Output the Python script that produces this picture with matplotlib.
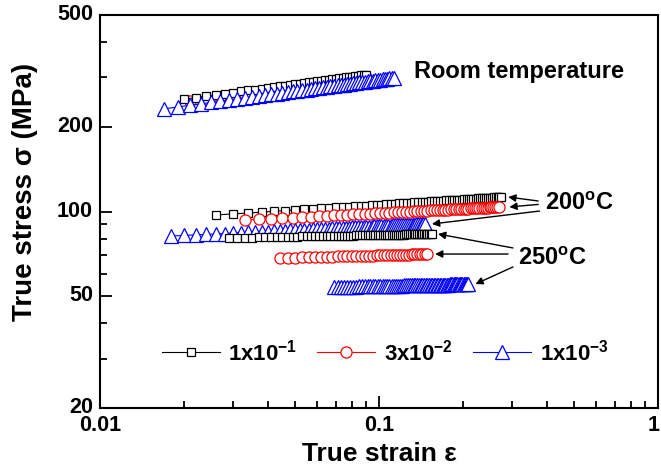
import matplotlib

matplotlib.use("Agg")

import matplotlib.pyplot as plt
from matplotlib.ticker import FixedLocator, NullFormatter
from matplotlib.transforms import ScaledTranslation

# strain rates (legend)
RATE_LABELS = ["1x10$^{-1}$", "3x10$^{-2}$", "1x10$^{-3}$"]
RATE_COLORS = ["black", "#ff0000", "#0000ff"]
RATE_MARKERS = ["s", "o", "^"]
RATE_MARKER_SIZES = [5.8, 8.0, 10.0]

# ---- room temperature ----
rt_fast_strain = [
    0.020, 0.022, 0.024, 0.026, 0.028, 0.030, 0.032, 0.034, 0.036, 0.038,
    0.040, 0.042, 0.044, 0.046, 0.048, 0.050, 0.052, 0.054, 0.056, 0.058,
    0.060, 0.062, 0.064, 0.066, 0.068, 0.070, 0.072, 0.074, 0.076, 0.078,
    0.080, 0.082, 0.084, 0.086, 0.088, 0.090,
]
rt_fast_stress = [
    251.0, 254.2, 257.2, 260.0, 262.6, 265.0, 267.3, 269.5, 271.6, 273.5,
    275.4, 277.2, 278.9, 280.6, 282.2, 283.8, 285.3, 286.7, 288.1, 289.5,
    290.8, 292.1, 293.3, 294.5, 295.7, 296.8, 298.0, 299.1, 300.1, 301.2,
    302.2, 303.2, 304.2, 305.1, 306.1, 307.0,
]
rt_mid_strain = [
    0.021, 0.024, 0.027, 0.030, 0.033, 0.036, 0.039, 0.042, 0.045, 0.048,
    0.051, 0.054, 0.057, 0.060, 0.063, 0.066, 0.069, 0.072, 0.075, 0.078,
    0.081, 0.084, 0.087, 0.090,
]
rt_mid_stress = [
    247.0, 251.5, 255.5, 259.2, 262.6, 265.7, 268.5, 271.2, 273.8, 276.2,
    278.5, 280.6, 282.7, 284.6, 286.5, 288.3, 290.1, 291.7, 293.3, 294.9,
    296.4, 297.9, 299.3, 300.7,
]
rt_slow_strain = [
    0.017, 0.019, 0.021, 0.023, 0.025, 0.027, 0.029, 0.031, 0.033, 0.035,
    0.037, 0.039, 0.041, 0.043, 0.045, 0.047, 0.049, 0.051, 0.053, 0.055,
    0.057, 0.059, 0.061, 0.063, 0.065, 0.067, 0.069, 0.071, 0.073, 0.075,
    0.077, 0.079, 0.081, 0.083, 0.085, 0.087, 0.089, 0.091, 0.093, 0.095,
    0.097, 0.099, 0.101, 0.103, 0.105, 0.107, 0.109, 0.111, 0.113,
]
rt_slow_stress = [
    232.0, 235.5, 238.7, 241.6, 244.3, 246.8, 249.2, 251.4, 253.5, 255.6,
    257.5, 259.3, 261.0, 262.7, 264.3, 265.8, 267.3, 268.8, 270.2, 271.5,
    272.8, 274.1, 275.3, 276.5, 277.6, 278.8, 279.9, 280.9, 282.0, 283.0,
    284.0, 285.0, 285.9, 286.9, 287.8, 288.7, 289.6, 290.4, 291.3, 292.1,
    292.9, 293.7, 294.5, 295.3, 296.1, 296.8, 297.5, 298.3, 299.0,
]

# ---- 200 C ----
t200_fast_strain = [
    0.026, 0.030, 0.034, 0.038, 0.042, 0.046, 0.050, 0.054, 0.058, 0.062,
    0.066, 0.070, 0.074, 0.078, 0.082, 0.086, 0.090, 0.094, 0.098, 0.102,
    0.106, 0.110, 0.114, 0.118, 0.122, 0.126, 0.130, 0.134, 0.138, 0.142,
    0.146, 0.150, 0.154, 0.158, 0.162, 0.166, 0.170, 0.174, 0.178, 0.182,
    0.186, 0.190, 0.194, 0.198, 0.202, 0.206, 0.210, 0.214, 0.218, 0.222,
    0.226, 0.230, 0.234, 0.238, 0.242, 0.246, 0.250, 0.254, 0.258, 0.262,
    0.266, 0.270, 0.274,
]
t200_fast_stress = [
    97.2, 98.1, 98.8, 99.5, 100.2, 100.7, 101.3, 101.7, 102.2, 102.6,
    103.0, 103.4, 103.8, 104.1, 104.4, 104.7, 105.0, 105.3, 105.6, 105.9,
    106.1, 106.4, 106.6, 106.8, 107.1, 107.3, 107.5, 107.7, 107.9, 108.1,
    108.3, 108.4, 108.6, 108.8, 109.0, 109.1, 109.3, 109.5, 109.6, 109.8,
    109.9, 110.1, 110.2, 110.3, 110.5, 110.6, 110.7, 110.9, 111.0, 111.1,
    111.3, 111.4, 111.5, 111.6, 111.7, 111.8, 112.0, 112.1, 112.2, 112.3,
    112.4, 112.5, 112.6,
]
t200_mid_strain = [
    0.033, 0.037, 0.041, 0.045, 0.049, 0.053, 0.057, 0.061, 0.065, 0.069,
    0.073, 0.077, 0.081, 0.085, 0.089, 0.093, 0.097, 0.101, 0.105, 0.109,
    0.113, 0.117, 0.121, 0.125, 0.129, 0.133, 0.137, 0.141, 0.145, 0.149,
    0.153, 0.157, 0.161, 0.165, 0.169, 0.173, 0.177, 0.181, 0.185, 0.189,
    0.193, 0.197, 0.201, 0.205, 0.209, 0.213, 0.217, 0.221, 0.225, 0.229,
    0.233, 0.237, 0.241, 0.245, 0.249, 0.253, 0.257, 0.261, 0.265, 0.269,
]
t200_mid_stress = [
    93.3, 93.8, 94.3, 94.8, 95.2, 95.6, 95.9, 96.3, 96.6, 96.9,
    97.1, 97.4, 97.7, 97.9, 98.1, 98.3, 98.6, 98.8, 99.0, 99.1,
    99.3, 99.5, 99.7, 99.8, 100.0, 100.1, 100.3, 100.4, 100.6, 100.7,
    100.9, 101.0, 101.1, 101.2, 101.4, 101.5, 101.6, 101.7, 101.8, 101.9,
    102.1, 102.2, 102.3, 102.4, 102.5, 102.6, 102.7, 102.8, 102.9, 102.9,
    103.0, 103.1, 103.2, 103.3, 103.4, 103.5, 103.5, 103.6, 103.7, 103.8,
]
t200_slow_strain = [
    0.018, 0.020, 0.022, 0.024, 0.026, 0.028, 0.030, 0.032, 0.034, 0.036,
    0.038, 0.040, 0.042, 0.044, 0.046, 0.048, 0.050, 0.052, 0.054, 0.056,
    0.058, 0.060, 0.062, 0.064, 0.066, 0.068, 0.070, 0.072, 0.074, 0.076,
    0.078, 0.080, 0.082, 0.084, 0.086, 0.088, 0.090, 0.092, 0.094, 0.096,
    0.098, 0.100, 0.102, 0.104, 0.106, 0.108, 0.110, 0.112, 0.114, 0.116,
    0.118, 0.120, 0.122, 0.124, 0.126, 0.128, 0.130, 0.132, 0.134, 0.136,
    0.138, 0.140, 0.142, 0.144, 0.146,
]
t200_slow_stress = [
    81.8, 82.2, 82.6, 82.9, 83.2, 83.5, 83.8, 84.1, 84.3, 84.5,
    84.7, 84.9, 85.1, 85.3, 85.5, 85.7, 85.8, 86.0, 86.2, 86.3,
    86.4, 86.6, 86.7, 86.8, 87.0, 87.1, 87.2, 87.3, 87.4, 87.6,
    87.7, 87.8, 87.9, 88.0, 88.1, 88.2, 88.3, 88.3, 88.4, 88.5,
    88.6, 88.7, 88.8, 88.9, 88.9, 89.0, 89.1, 89.2, 89.2, 89.3,
    89.4, 89.5, 89.5, 89.6, 89.7, 89.7, 89.8, 89.9, 89.9, 90.0,
    90.0, 90.1, 90.2, 90.2, 90.3,
]

# ---- 250 C ----
t250_fast_strain = [
    0.029, 0.031, 0.033, 0.035, 0.037, 0.039, 0.041, 0.043, 0.045, 0.047,
    0.049, 0.051, 0.053, 0.055, 0.057, 0.059, 0.061, 0.063, 0.065, 0.067,
    0.069, 0.071, 0.073, 0.075, 0.077, 0.079, 0.081, 0.083, 0.085, 0.087,
    0.089, 0.091, 0.093, 0.095, 0.097, 0.099, 0.101, 0.103, 0.105, 0.107,
    0.109, 0.111, 0.113, 0.115, 0.117, 0.119, 0.121, 0.123, 0.125, 0.127,
    0.129, 0.131, 0.133, 0.135, 0.137, 0.139, 0.141, 0.143, 0.145, 0.147,
    0.149, 0.151, 0.153, 0.155,
]
t250_fast_stress = [
    80.5, 80.6, 80.7, 80.8, 80.9, 81.0, 81.1, 81.1, 81.2, 81.3,
    81.3, 81.4, 81.5, 81.5, 81.6, 81.6, 81.7, 81.7, 81.8, 81.8,
    81.9, 81.9, 82.0, 82.0, 82.1, 82.1, 82.1, 82.2, 82.2, 82.3,
    82.3, 82.3, 82.4, 82.4, 82.4, 82.5, 82.5, 82.5, 82.6, 82.6,
    82.6, 82.7, 82.7, 82.7, 82.7, 82.8, 82.8, 82.8, 82.9, 82.9,
    82.9, 82.9, 83.0, 83.0, 83.0, 83.0, 83.0, 83.1, 83.1, 83.1,
    83.1, 83.2, 83.2, 83.2,
]
t250_mid_strain = [
    0.044, 0.047, 0.050, 0.053, 0.056, 0.059, 0.062, 0.065, 0.068, 0.071,
    0.074, 0.077, 0.080, 0.083, 0.086, 0.089, 0.092, 0.095, 0.098, 0.101,
    0.104, 0.107, 0.110, 0.113, 0.116, 0.119, 0.122, 0.125, 0.128, 0.131,
    0.134, 0.137, 0.140, 0.143, 0.146, 0.149,
]
t250_mid_stress = [
    68.3, 68.4, 68.5, 68.7, 68.8, 68.9, 68.9, 69.0, 69.1, 69.2,
    69.3, 69.4, 69.4, 69.5, 69.6, 69.6, 69.7, 69.7, 69.8, 69.9,
    69.9, 70.0, 70.0, 70.1, 70.1, 70.2, 70.2, 70.3, 70.3, 70.4,
    70.4, 70.4, 70.5, 70.5, 70.6, 70.6,
]
t250_slow_strain = [
    0.069, 0.071, 0.073, 0.075, 0.077, 0.079, 0.081, 0.083, 0.085, 0.087,
    0.089, 0.091, 0.093, 0.095, 0.097, 0.099, 0.101, 0.103, 0.105, 0.107,
    0.109, 0.111, 0.113, 0.115, 0.117, 0.119, 0.121, 0.123, 0.125, 0.127,
    0.129, 0.131, 0.133, 0.135, 0.137, 0.139, 0.141, 0.143, 0.145, 0.147,
    0.149, 0.151, 0.153, 0.155, 0.157, 0.159, 0.161, 0.163, 0.165, 0.167,
    0.169, 0.171, 0.173, 0.175, 0.177, 0.179, 0.181, 0.183, 0.185, 0.187,
    0.189, 0.191, 0.193, 0.195, 0.197, 0.199, 0.201, 0.203, 0.205, 0.207,
    0.209,
]
t250_slow_stress = [
    53.90, 53.93, 53.97, 54.00, 54.03, 54.06, 54.09, 54.11, 54.14, 54.17,
    54.20, 54.22, 54.25, 54.27, 54.30, 54.32, 54.34, 54.37, 54.39, 54.41,
    54.43, 54.45, 54.47, 54.50, 54.52, 54.54, 54.55, 54.57, 54.59, 54.61,
    54.63, 54.65, 54.67, 54.68, 54.70, 54.72, 54.73, 54.75, 54.77, 54.78,
    54.80, 54.82, 54.83, 54.85, 54.86, 54.88, 54.89, 54.91, 54.92, 54.93,
    54.95, 54.96, 54.98, 54.99, 55.00, 55.02, 55.03, 55.04, 55.06, 55.07,
    55.08, 55.09, 55.11, 55.12, 55.13, 55.14, 55.15, 55.17, 55.18, 55.19,
    55.20,
]

X_TICKS = [0.01, 0.1, 1]
X_TICK_LABELS = ["0.01", "0.1", "1"]
Y_TICKS = [20, 50, 100, 200, 500]
Y_TICK_LABELS = ["20", "50", "100", "200", "500"]
Y_MINOR_TICKS = [30, 40, 60, 70, 80, 90, 300, 400]


def plot_series(ax, strain, stress, rate, zorder, label=None):
    (line,) = ax.plot(
        strain,
        stress,
        color=RATE_COLORS[rate],
        lw=0.8,
        marker=RATE_MARKERS[rate],
        ms=RATE_MARKER_SIZES[rate],
        mfc="white",
        mec=RATE_COLORS[rate],
        mew=0.9,
        zorder=zorder,
        label=label,
    )
    return line


def arrow(ax, head, tail):
    ax.annotate(
        "",
        xy=head,
        xytext=tail,
        arrowprops=dict(
            arrowstyle="-|>",
            color="black",
            lw=1.0,
            shrinkA=0,
            shrinkB=0,
            mutation_scale=11,
        ),
        zorder=20,
    )


def main():
    plt.rcParams["font.family"] = ["Liberation Sans", "DejaVu Sans"]
    plt.rcParams["font.weight"] = "bold"
    plt.rcParams["mathtext.default"] = "regular"
    plt.rcParams["axes.unicode_minus"] = False

    fig = plt.figure(figsize=(6.61, 4.74), dpi=100)
    ax = fig.add_axes([0.1513, 0.1392, 0.8442, 0.8291])

    # drawing order follows the overlaps seen in the original
    h_mid = plot_series(ax, rt_mid_strain, rt_mid_stress, 1, 2, RATE_LABELS[1])
    h_fast = plot_series(ax, rt_fast_strain, rt_fast_stress, 0, 3, RATE_LABELS[0])
    h_slow = plot_series(ax, rt_slow_strain, rt_slow_stress, 2, 4, RATE_LABELS[2])
    plot_series(ax, t200_slow_strain, t200_slow_stress, 2, 5)
    plot_series(ax, t200_fast_strain, t200_fast_stress, 0, 6)
    plot_series(ax, t200_mid_strain, t200_mid_stress, 1, 7)
    plot_series(ax, t250_fast_strain, t250_fast_stress, 0, 8)
    plot_series(ax, t250_mid_strain, t250_mid_stress, 1, 9)
    plot_series(ax, t250_slow_strain, t250_slow_stress, 2, 10)

    ax.set_xscale("log")
    ax.set_yscale("log")
    ax.set_xlim(0.01, 1)
    ax.set_ylim(20, 500)

    ax.set_xticks(X_TICKS, labels=X_TICK_LABELS)
    ax.set_yticks(Y_TICKS, labels=Y_TICK_LABELS)
    ax.yaxis.set_minor_locator(FixedLocator(Y_MINOR_TICKS))
    ax.yaxis.set_minor_formatter(NullFormatter())
    ax.xaxis.set_minor_formatter(NullFormatter())

    ax.tick_params(which="both", direction="in", top=False, right=False, width=1.3)
    ax.tick_params(which="major", length=8.5)
    ax.tick_params(which="minor", length=5)
    ax.tick_params(axis="x", which="major", labelsize=15.5, pad=5)
    ax.tick_params(axis="y", which="major", labelsize=15.5, pad=5)
    for spine in ax.spines.values():
        spine.set_linewidth(1.5)

    # the y labels sit a touch high in the original, clear of "0.01"
    nudge_up = ScaledTranslation(0, 2 / 72, fig.dpi_scale_trans)
    for tick_label in ax.get_yticklabels():
        tick_label.set_transform(tick_label.get_transform() + nudge_up)
    # keep the "1" at the right end inside the picture
    last_x = ax.get_xticklabels()[-1]
    last_x.set_transform(last_x.get_transform() + ScaledTranslation(-3 / 72, 0, fig.dpi_scale_trans))

    ax.set_xlabel("True strain \u03b5", fontsize=19, fontweight="bold", labelpad=4)
    ax.set_ylabel("True stress \u03c3 (MPa)", fontsize=20, fontweight="bold")
    ax.yaxis.set_label_coords(-0.112, 0.55)

    ax.text(0.134, 298.5, "Room temperature", fontsize=17, fontweight="bold",
            ha="left", va="baseline")
    ax.text(0.393, 101.3, "200$^{o}$C", fontsize=17, fontweight="bold",
            ha="left", va="baseline")
    ax.text(0.315, 64.5, "250$^{o}$C", fontsize=17, fontweight="bold",
            ha="left", va="baseline")

    # arrows from the temperature labels to the ends of the curves
    arrow(ax, (t200_fast_strain[-1] * 1.06, t200_fast_stress[-1]), (0.372, 109.0))
    arrow(ax, (t200_mid_strain[-1] * 1.09, t200_mid_stress[-1]), (0.372, 106.0))
    arrow(ax, (t200_slow_strain[-1] * 1.06, t200_slow_stress[-1]), (0.376, 100.4))
    arrow(ax, (t250_fast_strain[-1] * 1.05, t250_fast_stress[-1]), (0.302, 74.2))
    arrow(ax, (t250_mid_strain[-1] * 1.066, t250_mid_stress[-1]), (0.290, t250_mid_stress[-1]))
    arrow(ax, (t250_slow_strain[-1] * 1.06, t250_slow_stress[-1]), (0.302, 63.5))

    ax.legend(
        handles=[h_fast, h_mid, h_slow],
        loc="center",
        bbox_to_anchor=(0.511, 0.142),
        ncol=3,
        frameon=False,
        fontsize=16,
        numpoints=1,
        handlelength=2.6,
        handletextpad=0.4,
        columnspacing=0.9,
    )

    fig.savefig("out.png", dpi=100)
    plt.close(fig)


if __name__ == "__main__":
    main()
